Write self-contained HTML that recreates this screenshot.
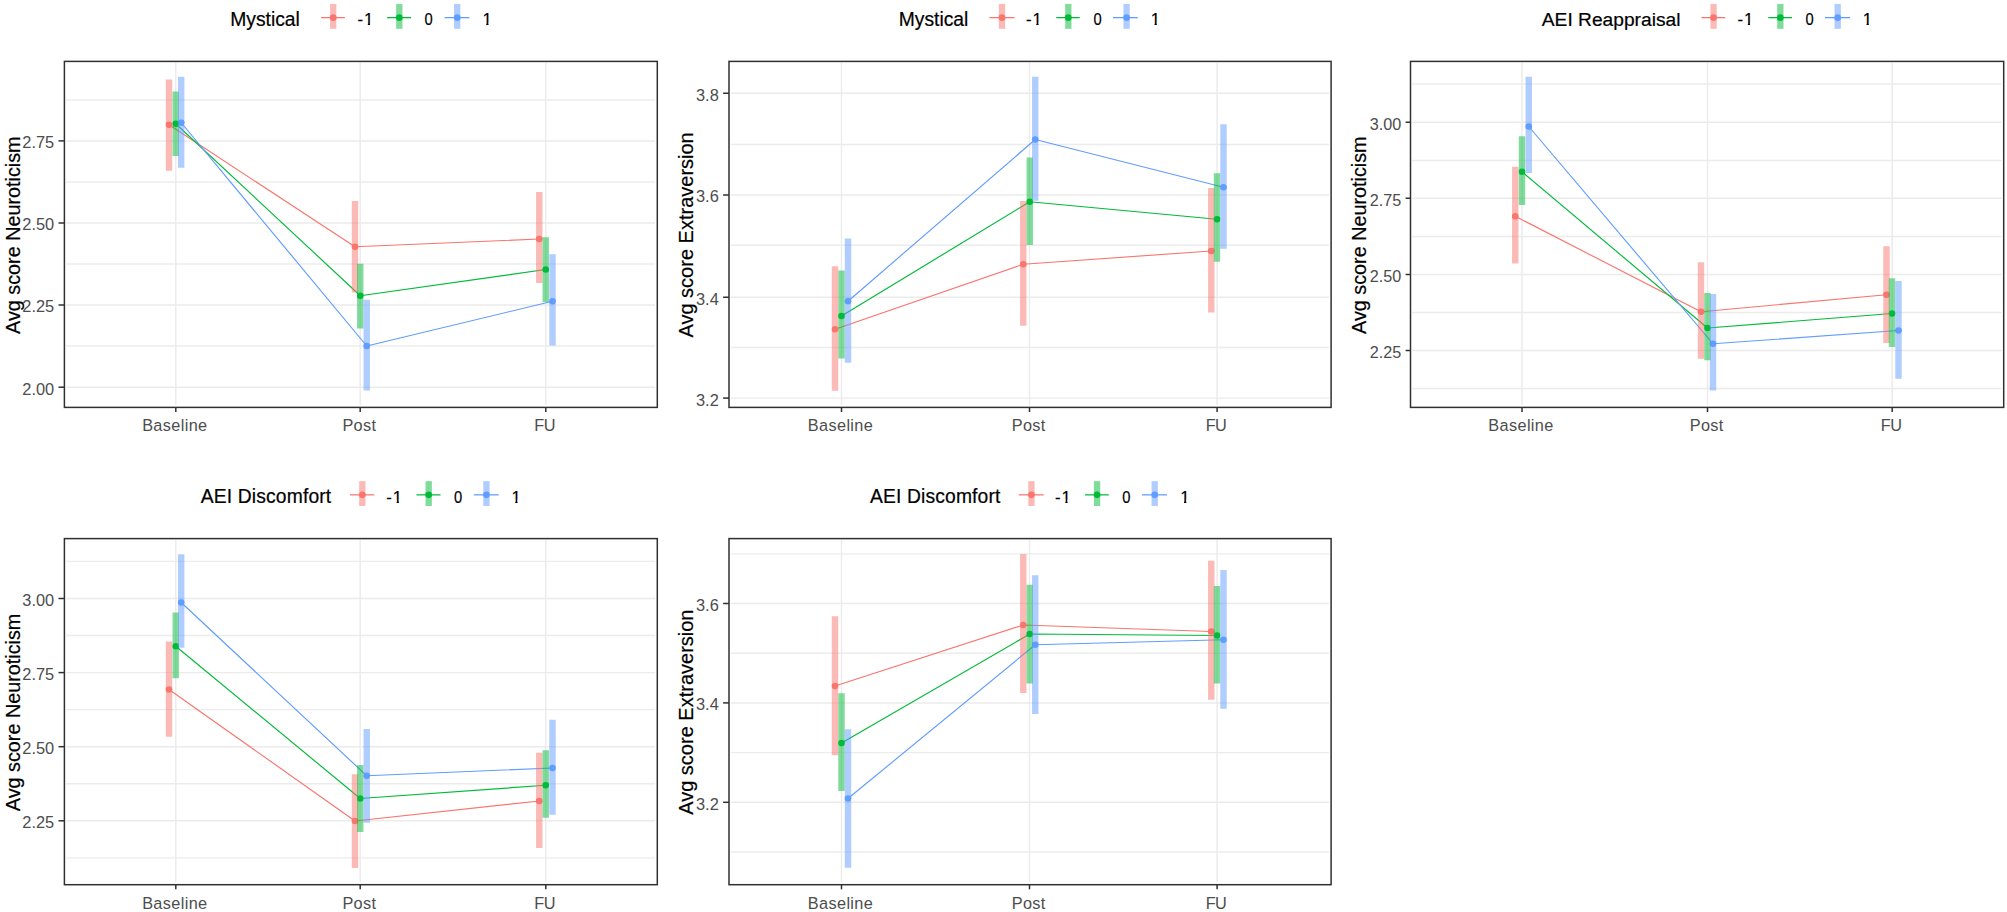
<!DOCTYPE html>
<html><head><meta charset="utf-8"><title>Plots</title>
<style>
html,body{margin:0;padding:0;background:#fff;}
svg{display:block;}
text{font-family:"Liberation Sans",sans-serif;}
</style></head><body>
<svg width="2007" height="912" viewBox="0 0 2007 912">
<rect width="2007" height="912" fill="#fff"/>
<rect x="64.4" y="61.4" width="592.9" height="346.0" fill="#fff"/>
<line x1="66.20" x2="655.10" y1="100" y2="100" stroke="#ECECEC" stroke-width="1.35"/>
<line x1="66.20" x2="655.10" y1="182" y2="182" stroke="#ECECEC" stroke-width="1.35"/>
<line x1="66.20" x2="655.10" y1="264" y2="264" stroke="#ECECEC" stroke-width="1.35"/>
<line x1="66.20" x2="655.10" y1="346" y2="346" stroke="#ECECEC" stroke-width="1.35"/>
<line x1="66.20" x2="655.10" y1="140.9" y2="140.9" stroke="#EBEBEB" stroke-width="1.45"/>
<line x1="66.20" x2="655.10" y1="223" y2="223" stroke="#EBEBEB" stroke-width="1.45"/>
<line x1="66.20" x2="655.10" y1="305" y2="305" stroke="#EBEBEB" stroke-width="1.45"/>
<line x1="66.20" x2="655.10" y1="387.2" y2="387.2" stroke="#EBEBEB" stroke-width="1.45"/>
<line x1="175.80" x2="175.80" y1="62.60" y2="405.00" stroke="#EBEBEB" stroke-width="1.45"/>
<line x1="360.20" x2="360.20" y1="62.60" y2="405.00" stroke="#EBEBEB" stroke-width="1.45"/>
<line x1="545.80" x2="545.80" y1="62.60" y2="405.00" stroke="#EBEBEB" stroke-width="1.45"/>
<polyline points="169.00,124.75 355.00,246.75 539.25,239.00" fill="none" stroke="#F8766D" stroke-width="1.15" stroke-linejoin="round"/>
<polyline points="175.75,123.75 360.25,295.75 545.75,269.50" fill="none" stroke="#00BA38" stroke-width="1.15" stroke-linejoin="round"/>
<polyline points="181.20,122.75 366.75,346.00 552.50,301.25" fill="none" stroke="#619CFF" stroke-width="1.15" stroke-linejoin="round"/>
<circle cx="169.00" cy="124.75" r="3.3" fill="#F8766D"/>
<circle cx="175.75" cy="123.75" r="3.3" fill="#00BA38"/>
<circle cx="181.20" cy="122.75" r="3.3" fill="#619CFF"/>
<circle cx="355.00" cy="246.75" r="3.3" fill="#F8766D"/>
<circle cx="360.25" cy="295.75" r="3.3" fill="#00BA38"/>
<circle cx="366.75" cy="346.00" r="3.3" fill="#619CFF"/>
<circle cx="539.25" cy="239.00" r="3.3" fill="#F8766D"/>
<circle cx="545.75" cy="269.50" r="3.3" fill="#00BA38"/>
<circle cx="552.50" cy="301.25" r="3.3" fill="#619CFF"/>
<rect x="165.80" y="79.50" width="6.4" height="91.25" fill="#F8766D" fill-opacity="0.5"/>
<rect x="172.55" y="91.50" width="6.4" height="64.50" fill="#00BA38" fill-opacity="0.5"/>
<rect x="178.00" y="76.75" width="6.4" height="91.00" fill="#619CFF" fill-opacity="0.5"/>
<rect x="351.80" y="201.00" width="6.4" height="91.50" fill="#F8766D" fill-opacity="0.5"/>
<rect x="357.05" y="263.75" width="6.4" height="64.75" fill="#00BA38" fill-opacity="0.5"/>
<rect x="363.55" y="299.75" width="6.4" height="90.75" fill="#619CFF" fill-opacity="0.5"/>
<rect x="536.05" y="192.00" width="6.4" height="91.00" fill="#F8766D" fill-opacity="0.5"/>
<rect x="542.55" y="237.25" width="6.4" height="64.75" fill="#00BA38" fill-opacity="0.5"/>
<rect x="549.30" y="254.25" width="6.4" height="91.25" fill="#619CFF" fill-opacity="0.5"/>
<rect x="64.4" y="61.4" width="592.9" height="346.0" fill="none" stroke="#303030" stroke-width="1.5"/>
<line x1="175.80" x2="175.80" y1="407.4" y2="412.0" stroke="#303030" stroke-width="1.5"/>
<line x1="360.20" x2="360.20" y1="407.4" y2="412.0" stroke="#303030" stroke-width="1.5"/>
<line x1="545.80" x2="545.80" y1="407.4" y2="412.0" stroke="#303030" stroke-width="1.5"/>
<line x1="58.50000000000001" x2="64.4" y1="140.9" y2="140.9" stroke="#303030" stroke-width="1.5"/>
<line x1="58.50000000000001" x2="64.4" y1="223" y2="223" stroke="#303030" stroke-width="1.5"/>
<line x1="58.50000000000001" x2="64.4" y1="305" y2="305" stroke="#303030" stroke-width="1.5"/>
<line x1="58.50000000000001" x2="64.4" y1="387.2" y2="387.2" stroke="#303030" stroke-width="1.5"/>
<text x="54.2" y="148.30" text-anchor="end" font-size="16.4" fill="#4D4D4D">2.75</text>
<text x="54.2" y="230.40" text-anchor="end" font-size="16.4" fill="#4D4D4D">2.50</text>
<text x="54.2" y="312.40" text-anchor="end" font-size="16.4" fill="#4D4D4D">2.25</text>
<text x="54.2" y="394.60" text-anchor="end" font-size="16.4" fill="#4D4D4D">2.00</text>
<text x="174.80" y="431.30" text-anchor="middle" font-size="16.3" letter-spacing="0.36" fill="#4D4D4D">Baseline</text>
<text x="359.40" y="431.30" text-anchor="middle" font-size="16.3" letter-spacing="0.35" fill="#4D4D4D">Post</text>
<text x="544.70" y="431.30" text-anchor="middle" font-size="16.3" letter-spacing="-0.5" fill="#4D4D4D">FU</text>
<text transform="translate(19.7,235.2) rotate(-90)" text-anchor="middle" font-size="19.8" stroke="#000" stroke-width="0.2" fill="#000">Avg score Neuroticism</text>
<text x="230.2" y="25.9" font-size="19.3" letter-spacing="0" stroke="#000" stroke-width="0.2" fill="#000">Mystical</text>
<line x1="321.1" x2="344.9" y1="17.65" y2="17.65" stroke="#F8766D" stroke-width="1.25"/>
<circle cx="333.2" cy="17.65" r="3.3" fill="#F8766D"/>
<rect x="330.05" y="3.9499999999999993" width="6.3" height="24.85" fill="#F8766D" fill-opacity="0.5"/>
<text x="357.5" y="25.299999999999997" font-size="16.8" stroke="#000" stroke-width="0.2" fill="#000">-</text>
<clipPath id="c10"><rect x="362.99" y="5.30" width="12" height="17.35"/><rect x="367.82" y="22.30" width="2.29" height="4"/></clipPath>
<text x="363.99" y="25.299999999999997" font-size="16.8" stroke="#000" stroke-width="0.2" fill="#000" clip-path="url(#c10)">1</text>
<line x1="387.1" x2="411.1" y1="17.65" y2="17.65" stroke="#00BA38" stroke-width="1.25"/>
<circle cx="399.3" cy="17.65" r="3.3" fill="#00BA38"/>
<rect x="396.15000000000003" y="3.9499999999999993" width="6.3" height="24.85" fill="#00BA38" fill-opacity="0.5"/>
<text x="424.5" y="25.299999999999997" font-size="16.8" textLength="8.2" lengthAdjust="spacingAndGlyphs" stroke="#000" stroke-width="0.2" fill="#000">0</text>
<line x1="444.6" x2="469.4" y1="17.65" y2="17.65" stroke="#619CFF" stroke-width="1.25"/>
<circle cx="457.2" cy="17.65" r="3.3" fill="#619CFF"/>
<rect x="454.05" y="3.9499999999999993" width="6.3" height="24.85" fill="#619CFF" fill-opacity="0.5"/>
<clipPath id="c12"><rect x="481.40" y="5.30" width="12" height="17.35"/><rect x="486.23" y="22.30" width="2.29" height="4"/></clipPath>
<text x="482.40" y="25.299999999999997" font-size="16.8" stroke="#000" stroke-width="0.2" fill="#000" clip-path="url(#c12)">1</text>
<rect x="729.0" y="61.4" width="602.0999999999999" height="346.0" fill="#fff"/>
<line x1="730.80" x2="1328.90" y1="144.5" y2="144.5" stroke="#ECECEC" stroke-width="1.35"/>
<line x1="730.80" x2="1328.90" y1="245.2" y2="245.2" stroke="#ECECEC" stroke-width="1.35"/>
<line x1="730.80" x2="1328.90" y1="347.5" y2="347.5" stroke="#ECECEC" stroke-width="1.35"/>
<line x1="730.80" x2="1328.90" y1="93.25" y2="93.25" stroke="#EBEBEB" stroke-width="1.45"/>
<line x1="730.80" x2="1328.90" y1="195" y2="195" stroke="#EBEBEB" stroke-width="1.45"/>
<line x1="730.80" x2="1328.90" y1="297.25" y2="297.25" stroke="#EBEBEB" stroke-width="1.45"/>
<line x1="730.80" x2="1328.90" y1="398.1" y2="398.1" stroke="#EBEBEB" stroke-width="1.45"/>
<line x1="841.50" x2="841.50" y1="62.60" y2="405.00" stroke="#EBEBEB" stroke-width="1.45"/>
<line x1="1029.50" x2="1029.50" y1="62.60" y2="405.00" stroke="#EBEBEB" stroke-width="1.45"/>
<line x1="1217.10" x2="1217.10" y1="62.60" y2="405.00" stroke="#EBEBEB" stroke-width="1.45"/>
<polyline points="835.00,329.25 1023.25,264.25 1211.25,251.00" fill="none" stroke="#F8766D" stroke-width="1.15" stroke-linejoin="round"/>
<polyline points="841.50,316.00 1029.75,201.75 1217.00,219.25" fill="none" stroke="#00BA38" stroke-width="1.15" stroke-linejoin="round"/>
<polyline points="848.00,301.25 1035.25,139.50 1223.50,187.25" fill="none" stroke="#619CFF" stroke-width="1.15" stroke-linejoin="round"/>
<circle cx="835.00" cy="329.25" r="3.3" fill="#F8766D"/>
<circle cx="841.50" cy="316.00" r="3.3" fill="#00BA38"/>
<circle cx="848.00" cy="301.25" r="3.3" fill="#619CFF"/>
<circle cx="1023.25" cy="264.25" r="3.3" fill="#F8766D"/>
<circle cx="1029.75" cy="201.75" r="3.3" fill="#00BA38"/>
<circle cx="1035.25" cy="139.50" r="3.3" fill="#619CFF"/>
<circle cx="1211.25" cy="251.00" r="3.3" fill="#F8766D"/>
<circle cx="1217.00" cy="219.25" r="3.3" fill="#00BA38"/>
<circle cx="1223.50" cy="187.25" r="3.3" fill="#619CFF"/>
<rect x="831.80" y="266.25" width="6.4" height="124.50" fill="#F8766D" fill-opacity="0.5"/>
<rect x="838.30" y="270.50" width="6.4" height="88.00" fill="#00BA38" fill-opacity="0.5"/>
<rect x="844.80" y="238.50" width="6.4" height="124.25" fill="#619CFF" fill-opacity="0.5"/>
<rect x="1020.05" y="201.00" width="6.4" height="124.75" fill="#F8766D" fill-opacity="0.5"/>
<rect x="1026.55" y="157.50" width="6.4" height="87.50" fill="#00BA38" fill-opacity="0.5"/>
<rect x="1032.05" y="76.75" width="6.4" height="124.00" fill="#619CFF" fill-opacity="0.5"/>
<rect x="1208.05" y="188.00" width="6.4" height="124.50" fill="#F8766D" fill-opacity="0.5"/>
<rect x="1213.80" y="173.25" width="6.4" height="88.50" fill="#00BA38" fill-opacity="0.5"/>
<rect x="1220.30" y="124.25" width="6.4" height="124.50" fill="#619CFF" fill-opacity="0.5"/>
<rect x="729.0" y="61.4" width="602.0999999999999" height="346.0" fill="none" stroke="#303030" stroke-width="1.5"/>
<line x1="841.50" x2="841.50" y1="407.4" y2="412.0" stroke="#303030" stroke-width="1.5"/>
<line x1="1029.50" x2="1029.50" y1="407.4" y2="412.0" stroke="#303030" stroke-width="1.5"/>
<line x1="1217.10" x2="1217.10" y1="407.4" y2="412.0" stroke="#303030" stroke-width="1.5"/>
<line x1="723.1" x2="729.0" y1="93.25" y2="93.25" stroke="#303030" stroke-width="1.5"/>
<line x1="723.1" x2="729.0" y1="195" y2="195" stroke="#303030" stroke-width="1.5"/>
<line x1="723.1" x2="729.0" y1="297.25" y2="297.25" stroke="#303030" stroke-width="1.5"/>
<line x1="723.1" x2="729.0" y1="398.1" y2="398.1" stroke="#303030" stroke-width="1.5"/>
<text x="718.8" y="100.65" text-anchor="end" font-size="16.4" fill="#4D4D4D">3.8</text>
<text x="718.8" y="202.40" text-anchor="end" font-size="16.4" fill="#4D4D4D">3.6</text>
<text x="718.8" y="304.65" text-anchor="end" font-size="16.4" fill="#4D4D4D">3.4</text>
<text x="718.8" y="405.50" text-anchor="end" font-size="16.4" fill="#4D4D4D">3.2</text>
<text x="840.50" y="431.30" text-anchor="middle" font-size="16.3" letter-spacing="0.36" fill="#4D4D4D">Baseline</text>
<text x="1028.70" y="431.30" text-anchor="middle" font-size="16.3" letter-spacing="0.35" fill="#4D4D4D">Post</text>
<text x="1216.00" y="431.30" text-anchor="middle" font-size="16.3" letter-spacing="-0.5" fill="#4D4D4D">FU</text>
<text transform="translate(692.7,234.89999999999998) rotate(-90)" text-anchor="middle" font-size="20.0" stroke="#000" stroke-width="0.2" fill="#000">Avg score Extraversion</text>
<text x="898.7" y="25.9" font-size="19.3" letter-spacing="0" stroke="#000" stroke-width="0.2" fill="#000">Mystical</text>
<line x1="989.4" x2="1014.6" y1="17.65" y2="17.65" stroke="#F8766D" stroke-width="1.25"/>
<circle cx="1002.0" cy="17.65" r="3.3" fill="#F8766D"/>
<rect x="998.8499999999999" y="3.9499999999999993" width="6.3" height="24.85" fill="#F8766D" fill-opacity="0.5"/>
<text x="1026" y="25.299999999999997" font-size="16.8" stroke="#000" stroke-width="0.2" fill="#000">-</text>
<clipPath id="c20"><rect x="1031.49" y="5.30" width="12" height="17.35"/><rect x="1036.32" y="22.30" width="2.29" height="4"/></clipPath>
<text x="1032.49" y="25.299999999999997" font-size="16.8" stroke="#000" stroke-width="0.2" fill="#000" clip-path="url(#c20)">1</text>
<line x1="1056.25" x2="1079.75" y1="17.65" y2="17.65" stroke="#00BA38" stroke-width="1.25"/>
<circle cx="1068.3" cy="17.65" r="3.3" fill="#00BA38"/>
<rect x="1065.1499999999999" y="3.9499999999999993" width="6.3" height="24.85" fill="#00BA38" fill-opacity="0.5"/>
<text x="1093.4" y="25.299999999999997" font-size="16.8" textLength="8.2" lengthAdjust="spacingAndGlyphs" stroke="#000" stroke-width="0.2" fill="#000">0</text>
<line x1="1113" x2="1137.8" y1="17.65" y2="17.65" stroke="#619CFF" stroke-width="1.25"/>
<circle cx="1126.6" cy="17.65" r="3.3" fill="#619CFF"/>
<rect x="1123.4499999999998" y="3.9499999999999993" width="6.3" height="24.85" fill="#619CFF" fill-opacity="0.5"/>
<clipPath id="c22"><rect x="1149.70" y="5.30" width="12" height="17.35"/><rect x="1154.53" y="22.30" width="2.29" height="4"/></clipPath>
<text x="1150.70" y="25.299999999999997" font-size="16.8" stroke="#000" stroke-width="0.2" fill="#000" clip-path="url(#c22)">1</text>
<rect x="1410.5" y="61.4" width="593.2" height="346.0" fill="#fff"/>
<line x1="1412.30" x2="2001.50" y1="84" y2="84" stroke="#ECECEC" stroke-width="1.35"/>
<line x1="1412.30" x2="2001.50" y1="160.5" y2="160.5" stroke="#ECECEC" stroke-width="1.35"/>
<line x1="1412.30" x2="2001.50" y1="236.5" y2="236.5" stroke="#ECECEC" stroke-width="1.35"/>
<line x1="1412.30" x2="2001.50" y1="312.5" y2="312.5" stroke="#ECECEC" stroke-width="1.35"/>
<line x1="1412.30" x2="2001.50" y1="388.5" y2="388.5" stroke="#ECECEC" stroke-width="1.35"/>
<line x1="1412.30" x2="2001.50" y1="122.25" y2="122.25" stroke="#EBEBEB" stroke-width="1.45"/>
<line x1="1412.30" x2="2001.50" y1="198.25" y2="198.25" stroke="#EBEBEB" stroke-width="1.45"/>
<line x1="1412.30" x2="2001.50" y1="274.5" y2="274.5" stroke="#EBEBEB" stroke-width="1.45"/>
<line x1="1412.30" x2="2001.50" y1="350.5" y2="350.5" stroke="#EBEBEB" stroke-width="1.45"/>
<line x1="1522.00" x2="1522.00" y1="62.60" y2="405.00" stroke="#EBEBEB" stroke-width="1.45"/>
<line x1="1707.50" x2="1707.50" y1="62.60" y2="405.00" stroke="#EBEBEB" stroke-width="1.45"/>
<line x1="1892.20" x2="1892.20" y1="62.60" y2="405.00" stroke="#EBEBEB" stroke-width="1.45"/>
<polyline points="1515.25,216.25 1701.00,311.75 1886.50,294.75" fill="none" stroke="#F8766D" stroke-width="1.15" stroke-linejoin="round"/>
<polyline points="1522.00,171.75 1707.50,328.00 1892.00,313.50" fill="none" stroke="#00BA38" stroke-width="1.15" stroke-linejoin="round"/>
<polyline points="1528.75,126.50 1713.00,343.75 1898.50,330.50" fill="none" stroke="#619CFF" stroke-width="1.15" stroke-linejoin="round"/>
<circle cx="1515.25" cy="216.25" r="3.3" fill="#F8766D"/>
<circle cx="1522.00" cy="171.75" r="3.3" fill="#00BA38"/>
<circle cx="1528.75" cy="126.50" r="3.3" fill="#619CFF"/>
<circle cx="1701.00" cy="311.75" r="3.3" fill="#F8766D"/>
<circle cx="1707.50" cy="328.00" r="3.3" fill="#00BA38"/>
<circle cx="1713.00" cy="343.75" r="3.3" fill="#619CFF"/>
<circle cx="1886.50" cy="294.75" r="3.3" fill="#F8766D"/>
<circle cx="1892.00" cy="313.50" r="3.3" fill="#00BA38"/>
<circle cx="1898.50" cy="330.50" r="3.3" fill="#619CFF"/>
<rect x="1512.05" y="166.75" width="6.4" height="96.75" fill="#F8766D" fill-opacity="0.5"/>
<rect x="1518.80" y="136.25" width="6.4" height="68.75" fill="#00BA38" fill-opacity="0.5"/>
<rect x="1525.55" y="76.75" width="6.4" height="96.25" fill="#619CFF" fill-opacity="0.5"/>
<rect x="1697.80" y="262.25" width="6.4" height="96.50" fill="#F8766D" fill-opacity="0.5"/>
<rect x="1704.30" y="293.00" width="6.4" height="67.25" fill="#00BA38" fill-opacity="0.5"/>
<rect x="1709.80" y="294.00" width="6.4" height="96.50" fill="#619CFF" fill-opacity="0.5"/>
<rect x="1883.30" y="246.25" width="6.4" height="96.75" fill="#F8766D" fill-opacity="0.5"/>
<rect x="1888.80" y="278.25" width="6.4" height="68.75" fill="#00BA38" fill-opacity="0.5"/>
<rect x="1895.30" y="281.00" width="6.4" height="97.75" fill="#619CFF" fill-opacity="0.5"/>
<rect x="1410.5" y="61.4" width="593.2" height="346.0" fill="none" stroke="#303030" stroke-width="1.5"/>
<line x1="1522.00" x2="1522.00" y1="407.4" y2="412.0" stroke="#303030" stroke-width="1.5"/>
<line x1="1707.50" x2="1707.50" y1="407.4" y2="412.0" stroke="#303030" stroke-width="1.5"/>
<line x1="1892.20" x2="1892.20" y1="407.4" y2="412.0" stroke="#303030" stroke-width="1.5"/>
<line x1="1405.6" x2="1410.5" y1="122.25" y2="122.25" stroke="#303030" stroke-width="1.5"/>
<line x1="1405.6" x2="1410.5" y1="198.25" y2="198.25" stroke="#303030" stroke-width="1.5"/>
<line x1="1405.6" x2="1410.5" y1="274.5" y2="274.5" stroke="#303030" stroke-width="1.5"/>
<line x1="1405.6" x2="1410.5" y1="350.5" y2="350.5" stroke="#303030" stroke-width="1.5"/>
<text x="1401.2" y="129.65" text-anchor="end" font-size="16.2" fill="#4D4D4D">3.00</text>
<text x="1401.2" y="205.65" text-anchor="end" font-size="16.2" fill="#4D4D4D">2.75</text>
<text x="1401.2" y="281.90" text-anchor="end" font-size="16.2" fill="#4D4D4D">2.50</text>
<text x="1401.2" y="357.90" text-anchor="end" font-size="16.2" fill="#4D4D4D">2.25</text>
<text x="1521.00" y="431.30" text-anchor="middle" font-size="16.3" letter-spacing="0.36" fill="#4D4D4D">Baseline</text>
<text x="1706.70" y="431.30" text-anchor="middle" font-size="16.3" letter-spacing="0.35" fill="#4D4D4D">Post</text>
<text x="1891.10" y="431.30" text-anchor="middle" font-size="16.3" letter-spacing="-0.5" fill="#4D4D4D">FU</text>
<text transform="translate(1365.7,235.2) rotate(-90)" text-anchor="middle" font-size="19.8" stroke="#000" stroke-width="0.2" fill="#000">Avg score Neuroticism</text>
<text x="1541.8" y="25.9" font-size="19.2" letter-spacing="0" stroke="#000" stroke-width="0.2" fill="#000">AEI Reappraisal</text>
<line x1="1701.5" x2="1725.25" y1="17.65" y2="17.65" stroke="#F8766D" stroke-width="1.25"/>
<circle cx="1713.575" cy="17.65" r="3.3" fill="#F8766D"/>
<rect x="1710.425" y="3.9499999999999993" width="6.3" height="24.85" fill="#F8766D" fill-opacity="0.5"/>
<text x="1737.5" y="25.299999999999997" font-size="16.8" stroke="#000" stroke-width="0.2" fill="#000">-</text>
<clipPath id="c30"><rect x="1742.99" y="5.30" width="12" height="17.35"/><rect x="1747.82" y="22.30" width="2.29" height="4"/></clipPath>
<text x="1743.99" y="25.299999999999997" font-size="16.8" stroke="#000" stroke-width="0.2" fill="#000" clip-path="url(#c30)">1</text>
<line x1="1768.25" x2="1792" y1="17.65" y2="17.65" stroke="#00BA38" stroke-width="1.25"/>
<circle cx="1780.325" cy="17.65" r="3.3" fill="#00BA38"/>
<rect x="1777.175" y="3.9499999999999993" width="6.3" height="24.85" fill="#00BA38" fill-opacity="0.5"/>
<text x="1805.4" y="25.299999999999997" font-size="16.8" textLength="8.2" lengthAdjust="spacingAndGlyphs" stroke="#000" stroke-width="0.2" fill="#000">0</text>
<line x1="1825" x2="1850" y1="17.65" y2="17.65" stroke="#619CFF" stroke-width="1.25"/>
<circle cx="1837.7" cy="17.65" r="3.3" fill="#619CFF"/>
<rect x="1834.55" y="3.9499999999999993" width="6.3" height="24.85" fill="#619CFF" fill-opacity="0.5"/>
<clipPath id="c32"><rect x="1861.70" y="5.30" width="12" height="17.35"/><rect x="1866.53" y="22.30" width="2.29" height="4"/></clipPath>
<text x="1862.70" y="25.299999999999997" font-size="16.8" stroke="#000" stroke-width="0.2" fill="#000" clip-path="url(#c32)">1</text>
<rect x="64.4" y="538.6" width="592.9" height="346.1" fill="#fff"/>
<line x1="66.20" x2="655.10" y1="561.4" y2="561.4" stroke="#ECECEC" stroke-width="1.35"/>
<line x1="66.20" x2="655.10" y1="635.5" y2="635.5" stroke="#ECECEC" stroke-width="1.35"/>
<line x1="66.20" x2="655.10" y1="709.6" y2="709.6" stroke="#ECECEC" stroke-width="1.35"/>
<line x1="66.20" x2="655.10" y1="783.7" y2="783.7" stroke="#ECECEC" stroke-width="1.35"/>
<line x1="66.20" x2="655.10" y1="857.8" y2="857.8" stroke="#ECECEC" stroke-width="1.35"/>
<line x1="66.20" x2="655.10" y1="598.5" y2="598.5" stroke="#EBEBEB" stroke-width="1.45"/>
<line x1="66.20" x2="655.10" y1="672.6" y2="672.6" stroke="#EBEBEB" stroke-width="1.45"/>
<line x1="66.20" x2="655.10" y1="746.7" y2="746.7" stroke="#EBEBEB" stroke-width="1.45"/>
<line x1="66.20" x2="655.10" y1="820.8" y2="820.8" stroke="#EBEBEB" stroke-width="1.45"/>
<line x1="175.80" x2="175.80" y1="539.80" y2="882.30" stroke="#EBEBEB" stroke-width="1.45"/>
<line x1="360.20" x2="360.20" y1="539.80" y2="882.30" stroke="#EBEBEB" stroke-width="1.45"/>
<line x1="545.80" x2="545.80" y1="539.80" y2="882.30" stroke="#EBEBEB" stroke-width="1.45"/>
<polyline points="169.00,689.50 355.00,821.00 539.25,801.00" fill="none" stroke="#F8766D" stroke-width="1.15" stroke-linejoin="round"/>
<polyline points="175.75,646.25 360.25,798.50 545.75,785.25" fill="none" stroke="#00BA38" stroke-width="1.15" stroke-linejoin="round"/>
<polyline points="181.20,602.50 366.75,775.75 552.50,768.00" fill="none" stroke="#619CFF" stroke-width="1.15" stroke-linejoin="round"/>
<circle cx="169.00" cy="689.50" r="3.3" fill="#F8766D"/>
<circle cx="175.75" cy="646.25" r="3.3" fill="#00BA38"/>
<circle cx="181.20" cy="602.50" r="3.3" fill="#619CFF"/>
<circle cx="355.00" cy="821.00" r="3.3" fill="#F8766D"/>
<circle cx="360.25" cy="798.50" r="3.3" fill="#00BA38"/>
<circle cx="366.75" cy="775.75" r="3.3" fill="#619CFF"/>
<circle cx="539.25" cy="801.00" r="3.3" fill="#F8766D"/>
<circle cx="545.75" cy="785.25" r="3.3" fill="#00BA38"/>
<circle cx="552.50" cy="768.00" r="3.3" fill="#619CFF"/>
<rect x="165.80" y="641.50" width="6.4" height="95.25" fill="#F8766D" fill-opacity="0.5"/>
<rect x="172.55" y="612.50" width="6.4" height="65.75" fill="#00BA38" fill-opacity="0.5"/>
<rect x="178.00" y="554.25" width="6.4" height="93.50" fill="#619CFF" fill-opacity="0.5"/>
<rect x="351.80" y="774.25" width="6.4" height="93.75" fill="#F8766D" fill-opacity="0.5"/>
<rect x="357.05" y="765.00" width="6.4" height="67.00" fill="#00BA38" fill-opacity="0.5"/>
<rect x="363.55" y="729.00" width="6.4" height="93.75" fill="#619CFF" fill-opacity="0.5"/>
<rect x="536.05" y="752.75" width="6.4" height="95.25" fill="#F8766D" fill-opacity="0.5"/>
<rect x="542.55" y="750.25" width="6.4" height="67.50" fill="#00BA38" fill-opacity="0.5"/>
<rect x="549.30" y="719.75" width="6.4" height="95.00" fill="#619CFF" fill-opacity="0.5"/>
<rect x="64.4" y="538.6" width="592.9" height="346.1" fill="none" stroke="#303030" stroke-width="1.5"/>
<line x1="175.80" x2="175.80" y1="884.7" y2="889.3000000000001" stroke="#303030" stroke-width="1.5"/>
<line x1="360.20" x2="360.20" y1="884.7" y2="889.3000000000001" stroke="#303030" stroke-width="1.5"/>
<line x1="545.80" x2="545.80" y1="884.7" y2="889.3000000000001" stroke="#303030" stroke-width="1.5"/>
<line x1="58.50000000000001" x2="64.4" y1="598.5" y2="598.5" stroke="#303030" stroke-width="1.5"/>
<line x1="58.50000000000001" x2="64.4" y1="672.6" y2="672.6" stroke="#303030" stroke-width="1.5"/>
<line x1="58.50000000000001" x2="64.4" y1="746.7" y2="746.7" stroke="#303030" stroke-width="1.5"/>
<line x1="58.50000000000001" x2="64.4" y1="820.8" y2="820.8" stroke="#303030" stroke-width="1.5"/>
<text x="54.2" y="605.90" text-anchor="end" font-size="16.4" fill="#4D4D4D">3.00</text>
<text x="54.2" y="680.00" text-anchor="end" font-size="16.4" fill="#4D4D4D">2.75</text>
<text x="54.2" y="754.10" text-anchor="end" font-size="16.4" fill="#4D4D4D">2.50</text>
<text x="54.2" y="828.20" text-anchor="end" font-size="16.4" fill="#4D4D4D">2.25</text>
<text x="174.80" y="908.60" text-anchor="middle" font-size="16.3" letter-spacing="0.36" fill="#4D4D4D">Baseline</text>
<text x="359.40" y="908.60" text-anchor="middle" font-size="16.3" letter-spacing="0.35" fill="#4D4D4D">Post</text>
<text x="544.70" y="908.60" text-anchor="middle" font-size="16.3" letter-spacing="-0.5" fill="#4D4D4D">FU</text>
<text transform="translate(19.7,712.45) rotate(-90)" text-anchor="middle" font-size="19.8" stroke="#000" stroke-width="0.2" fill="#000">Avg score Neuroticism</text>
<text x="200.7" y="503.1" font-size="19.3" letter-spacing="0.15" stroke="#000" stroke-width="0.2" fill="#000">AEI Discomfort</text>
<line x1="350" x2="374.25" y1="494.85" y2="494.85" stroke="#F8766D" stroke-width="1.25"/>
<circle cx="362.325" cy="494.85" r="3.3" fill="#F8766D"/>
<rect x="359.175" y="481.15000000000003" width="6.3" height="24.85" fill="#F8766D" fill-opacity="0.5"/>
<text x="386.3" y="502.5" font-size="16.8" stroke="#000" stroke-width="0.2" fill="#000">-</text>
<clipPath id="c40"><rect x="391.79" y="482.50" width="12" height="17.35"/><rect x="396.62" y="499.50" width="2.29" height="4"/></clipPath>
<text x="392.79" y="502.5" font-size="16.8" stroke="#000" stroke-width="0.2" fill="#000" clip-path="url(#c40)">1</text>
<line x1="416.5" x2="440.5" y1="494.85" y2="494.85" stroke="#00BA38" stroke-width="1.25"/>
<circle cx="428.7" cy="494.85" r="3.3" fill="#00BA38"/>
<rect x="425.55" y="481.15000000000003" width="6.3" height="24.85" fill="#00BA38" fill-opacity="0.5"/>
<text x="454.1" y="502.5" font-size="16.8" textLength="8.2" lengthAdjust="spacingAndGlyphs" stroke="#000" stroke-width="0.2" fill="#000">0</text>
<line x1="473.75" x2="498.75" y1="494.85" y2="494.85" stroke="#619CFF" stroke-width="1.25"/>
<circle cx="486.45" cy="494.85" r="3.3" fill="#619CFF"/>
<rect x="483.3" y="481.15000000000003" width="6.3" height="24.85" fill="#619CFF" fill-opacity="0.5"/>
<clipPath id="c42"><rect x="510.40" y="482.50" width="12" height="17.35"/><rect x="515.23" y="499.50" width="2.29" height="4"/></clipPath>
<text x="511.40" y="502.5" font-size="16.8" stroke="#000" stroke-width="0.2" fill="#000" clip-path="url(#c42)">1</text>
<rect x="729.0" y="538.6" width="602.0999999999999" height="346.1" fill="#fff"/>
<line x1="730.80" x2="1328.90" y1="553.8" y2="553.8" stroke="#ECECEC" stroke-width="1.35"/>
<line x1="730.80" x2="1328.90" y1="653.2" y2="653.2" stroke="#ECECEC" stroke-width="1.35"/>
<line x1="730.80" x2="1328.90" y1="752.6" y2="752.6" stroke="#ECECEC" stroke-width="1.35"/>
<line x1="730.80" x2="1328.90" y1="852" y2="852" stroke="#ECECEC" stroke-width="1.35"/>
<line x1="730.80" x2="1328.90" y1="603.5" y2="603.5" stroke="#EBEBEB" stroke-width="1.45"/>
<line x1="730.80" x2="1328.90" y1="702.9" y2="702.9" stroke="#EBEBEB" stroke-width="1.45"/>
<line x1="730.80" x2="1328.90" y1="802.3" y2="802.3" stroke="#EBEBEB" stroke-width="1.45"/>
<line x1="841.50" x2="841.50" y1="539.80" y2="882.30" stroke="#EBEBEB" stroke-width="1.45"/>
<line x1="1029.50" x2="1029.50" y1="539.80" y2="882.30" stroke="#EBEBEB" stroke-width="1.45"/>
<line x1="1217.10" x2="1217.10" y1="539.80" y2="882.30" stroke="#EBEBEB" stroke-width="1.45"/>
<polyline points="835.00,686.00 1023.25,625.00 1211.25,631.50" fill="none" stroke="#F8766D" stroke-width="1.15" stroke-linejoin="round"/>
<polyline points="841.50,743.00 1029.75,634.00 1217.00,635.50" fill="none" stroke="#00BA38" stroke-width="1.15" stroke-linejoin="round"/>
<polyline points="848.00,798.50 1035.25,644.75 1223.50,639.75" fill="none" stroke="#619CFF" stroke-width="1.15" stroke-linejoin="round"/>
<circle cx="835.00" cy="686.00" r="3.3" fill="#F8766D"/>
<circle cx="841.50" cy="743.00" r="3.3" fill="#00BA38"/>
<circle cx="848.00" cy="798.50" r="3.3" fill="#619CFF"/>
<circle cx="1023.25" cy="625.00" r="3.3" fill="#F8766D"/>
<circle cx="1029.75" cy="634.00" r="3.3" fill="#00BA38"/>
<circle cx="1035.25" cy="644.75" r="3.3" fill="#619CFF"/>
<circle cx="1211.25" cy="631.50" r="3.3" fill="#F8766D"/>
<circle cx="1217.00" cy="635.50" r="3.3" fill="#00BA38"/>
<circle cx="1223.50" cy="639.75" r="3.3" fill="#619CFF"/>
<rect x="831.80" y="616.25" width="6.4" height="139.00" fill="#F8766D" fill-opacity="0.5"/>
<rect x="838.30" y="693.25" width="6.4" height="97.75" fill="#00BA38" fill-opacity="0.5"/>
<rect x="844.80" y="729.25" width="6.4" height="138.50" fill="#619CFF" fill-opacity="0.5"/>
<rect x="1020.05" y="554.00" width="6.4" height="139.00" fill="#F8766D" fill-opacity="0.5"/>
<rect x="1026.55" y="584.75" width="6.4" height="98.75" fill="#00BA38" fill-opacity="0.5"/>
<rect x="1032.05" y="575.25" width="6.4" height="138.75" fill="#619CFF" fill-opacity="0.5"/>
<rect x="1208.05" y="560.75" width="6.4" height="139.00" fill="#F8766D" fill-opacity="0.5"/>
<rect x="1213.80" y="586.00" width="6.4" height="97.50" fill="#00BA38" fill-opacity="0.5"/>
<rect x="1220.30" y="570.00" width="6.4" height="138.75" fill="#619CFF" fill-opacity="0.5"/>
<rect x="729.0" y="538.6" width="602.0999999999999" height="346.1" fill="none" stroke="#303030" stroke-width="1.5"/>
<line x1="841.50" x2="841.50" y1="884.7" y2="889.3000000000001" stroke="#303030" stroke-width="1.5"/>
<line x1="1029.50" x2="1029.50" y1="884.7" y2="889.3000000000001" stroke="#303030" stroke-width="1.5"/>
<line x1="1217.10" x2="1217.10" y1="884.7" y2="889.3000000000001" stroke="#303030" stroke-width="1.5"/>
<line x1="723.1" x2="729.0" y1="603.5" y2="603.5" stroke="#303030" stroke-width="1.5"/>
<line x1="723.1" x2="729.0" y1="702.9" y2="702.9" stroke="#303030" stroke-width="1.5"/>
<line x1="723.1" x2="729.0" y1="802.3" y2="802.3" stroke="#303030" stroke-width="1.5"/>
<text x="718.8" y="610.90" text-anchor="end" font-size="16.4" fill="#4D4D4D">3.6</text>
<text x="718.8" y="710.30" text-anchor="end" font-size="16.4" fill="#4D4D4D">3.4</text>
<text x="718.8" y="809.70" text-anchor="end" font-size="16.4" fill="#4D4D4D">3.2</text>
<text x="840.50" y="908.60" text-anchor="middle" font-size="16.3" letter-spacing="0.36" fill="#4D4D4D">Baseline</text>
<text x="1028.70" y="908.60" text-anchor="middle" font-size="16.3" letter-spacing="0.35" fill="#4D4D4D">Post</text>
<text x="1216.00" y="908.60" text-anchor="middle" font-size="16.3" letter-spacing="-0.5" fill="#4D4D4D">FU</text>
<text transform="translate(692.7,712.1500000000001) rotate(-90)" text-anchor="middle" font-size="20.0" stroke="#000" stroke-width="0.2" fill="#000">Avg score Extraversion</text>
<text x="869.9" y="503.1" font-size="19.3" letter-spacing="0.15" stroke="#000" stroke-width="0.2" fill="#000">AEI Discomfort</text>
<line x1="1018.75" x2="1043.75" y1="494.85" y2="494.85" stroke="#F8766D" stroke-width="1.25"/>
<circle cx="1031.45" cy="494.85" r="3.3" fill="#F8766D"/>
<rect x="1028.3" y="481.15000000000003" width="6.3" height="24.85" fill="#F8766D" fill-opacity="0.5"/>
<text x="1055" y="502.5" font-size="16.8" stroke="#000" stroke-width="0.2" fill="#000">-</text>
<clipPath id="c50"><rect x="1060.49" y="482.50" width="12" height="17.35"/><rect x="1065.32" y="499.50" width="2.29" height="4"/></clipPath>
<text x="1061.49" y="502.5" font-size="16.8" stroke="#000" stroke-width="0.2" fill="#000" clip-path="url(#c50)">1</text>
<line x1="1085" x2="1108.75" y1="494.85" y2="494.85" stroke="#00BA38" stroke-width="1.25"/>
<circle cx="1097.075" cy="494.85" r="3.3" fill="#00BA38"/>
<rect x="1093.925" y="481.15000000000003" width="6.3" height="24.85" fill="#00BA38" fill-opacity="0.5"/>
<text x="1122.2" y="502.5" font-size="16.8" textLength="8.2" lengthAdjust="spacingAndGlyphs" stroke="#000" stroke-width="0.2" fill="#000">0</text>
<line x1="1142" x2="1167" y1="494.85" y2="494.85" stroke="#619CFF" stroke-width="1.25"/>
<circle cx="1154.7" cy="494.85" r="3.3" fill="#619CFF"/>
<rect x="1151.55" y="481.15000000000003" width="6.3" height="24.85" fill="#619CFF" fill-opacity="0.5"/>
<clipPath id="c52"><rect x="1179.20" y="482.50" width="12" height="17.35"/><rect x="1184.03" y="499.50" width="2.29" height="4"/></clipPath>
<text x="1180.20" y="502.5" font-size="16.8" stroke="#000" stroke-width="0.2" fill="#000" clip-path="url(#c52)">1</text>
</svg>
</body></html>
